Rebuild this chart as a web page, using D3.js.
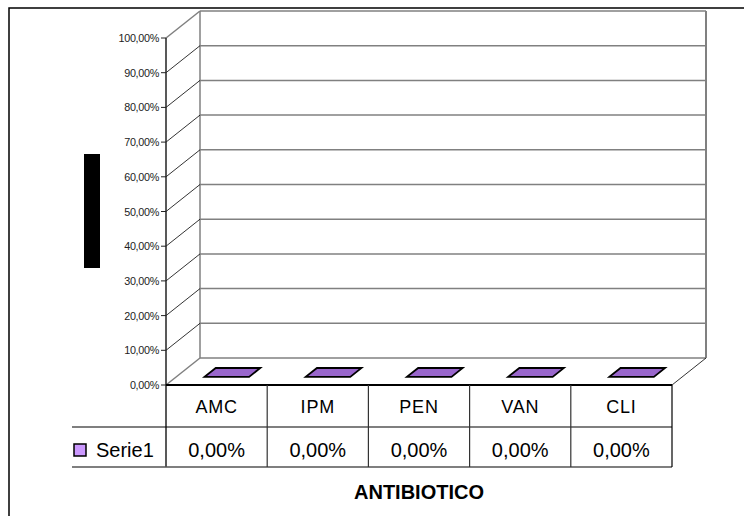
<!DOCTYPE html>
<html>
<head>
<meta charset="utf-8">
<script src="https://cdn.jsdelivr.net/npm/d3@7"></script>
<style>
  html, body { margin: 0; padding: 0; background: #fff; }
  svg { display: block; font-family: "Liberation Sans", Arial, sans-serif; }
</style>
</head>
<body>
<svg id="chart" width="744" height="516"></svg>
<script>
// Series data
const categories = ["AMC", "IPM", "PEN", "VAN", "CLI"];
const serieName = "Serie1";
const serieValues = [0, 0, 0, 0, 0];
const yTicks = [0, 0.1, 0.2, 0.3, 0.4, 0.5, 0.6, 0.7, 0.8, 0.9, 1.0];
const axisTitle = "ANTIBIOTICO";

const svg = d3.select("#chart");
const locale = d3.formatLocale({ decimal: ",", thousands: ".", grouping: [3], currency: ["", "€"] });
const pct = locale.format(".2%");

// 3D frame geometry
const left = 166, right = 672, floorY = 385, topY = 38;
const depthX = 34, depthY = 27;
const barDepth0 = 0.3, barDepth1 = 0.63;

const x = d3.scaleBand().domain(categories).range([left, right]).paddingInner(0.56).paddingOuter(0.28);
const col = d3.scaleBand().domain(categories).range([left, right]);
const y = d3.scaleLinear().domain([0, 1]).range([floorY, topY]);

// outer chart border
svg.append("rect").attr("x", 9).attr("y", 8).attr("width", 760).attr("height", 540)
  .attr("fill", "none").attr("stroke", "#000").attr("stroke-width", 1.5);

// back wall and gridlines
const backL = left + depthX, backR = right + depthX;
yTicks.forEach(t => {
  svg.append("line").attr("x1", backL).attr("x2", backR)
    .attr("y1", y(t) - depthY).attr("y2", y(t) - depthY)
    .attr("stroke", "#808080").attr("stroke-width", 1.5);
});
svg.append("line").attr("x1", backL).attr("x2", backL).attr("y1", y(1) - depthY).attr("y2", y(0) - depthY)
  .attr("stroke", "#808080").attr("stroke-width", 1.5);
svg.append("line").attr("x1", backR).attr("x2", backR).attr("y1", y(1) - depthY).attr("y2", y(0) - depthY)
  .attr("stroke", "#808080").attr("stroke-width", 2);

// side wall diagonals from the axis ticks
yTicks.forEach((t, i) => {
  const edge = (i === 0 || i === yTicks.length - 1);
  svg.append("line").attr("x1", left).attr("y1", y(t)).attr("x2", backL).attr("y2", y(t) - depthY)
    .attr("stroke", edge ? "#808080" : "#000").attr("stroke-width", edge ? 1.5 : 0.8);
});
// floor right diagonal
svg.append("line").attr("x1", right).attr("y1", floorY).attr("x2", backR).attr("y2", floorY - depthY)
  .attr("stroke", "#000").attr("stroke-width", 0.8);

// bars (3D columns: top, front and side faces)
const pt = (xv, d, v) => [xv + d * depthX, y(v) - d * depthY];
categories.forEach((c, i) => {
  const v = serieValues[i];
  const x0 = x(c), x1 = x(c) + x.bandwidth();
  const front = [pt(x0, barDepth0, 0), pt(x1, barDepth0, 0), pt(x1, barDepth0, v), pt(x0, barDepth0, v)];
  const side = [pt(x1, barDepth0, 0), pt(x1, barDepth1, 0), pt(x1, barDepth1, v), pt(x1, barDepth0, v)];
  const top = [pt(x0, barDepth0, v), pt(x1, barDepth0, v), pt(x1, barDepth1, v), pt(x0, barDepth1, v)];
  if (v > 0) {
    svg.append("polygon").attr("points", front.join(" ")).attr("fill", "#cc99ff").attr("stroke", "#000");
    svg.append("polygon").attr("points", side.join(" ")).attr("fill", "#7a52a3").attr("stroke", "#000");
  }
  svg.append("polygon").attr("points", top.join(" ")).attr("fill", "#9966cc")
    .attr("stroke", "#000").attr("stroke-width", 1.8).attr("stroke-linejoin", "miter");
});

// front axis line and ticks
svg.append("line").attr("x1", left).attr("x2", left).attr("y1", topY).attr("y2", 467)
  .attr("stroke", "#222").attr("stroke-width", 1.5);
yTicks.forEach(t => {
  svg.append("line").attr("x1", left - 5).attr("x2", left).attr("y1", y(t)).attr("y2", y(t))
    .attr("stroke", "#222").attr("stroke-width", 1);
  svg.append("text").attr("x", 159).attr("y", y(t) + 4).attr("text-anchor", "end")
    .attr("font-size", 10.8).attr("fill", "#222").attr("letter-spacing", -0.3).text(pct(t));
});

// y-axis title block
svg.append("rect").attr("x", 84).attr("y", 154).attr("width", 16).attr("height", 114).attr("fill", "#000");

// data table
const rowTop = floorY, rowMid = 427, rowBot = 467, tableLeft = 72;
svg.append("line").attr("x1", left).attr("x2", right).attr("y1", rowTop).attr("y2", rowTop)
  .attr("stroke", "#000").attr("stroke-width", 2);
svg.append("line").attr("x1", tableLeft).attr("x2", right).attr("y1", rowMid).attr("y2", rowMid)
  .attr("stroke", "#000").attr("stroke-width", 1.2);
svg.append("line").attr("x1", tableLeft).attr("x2", right).attr("y1", rowBot).attr("y2", rowBot)
  .attr("stroke", "#555").attr("stroke-width", 1.5);
categories.forEach((c, i) => {
  const xr = col(c) + col.bandwidth();
  svg.append("line").attr("x1", xr).attr("x2", xr).attr("y1", rowTop).attr("y2", rowBot)
    .attr("stroke", i === categories.length - 1 ? "#000" : "#333").attr("stroke-width", 1.2);
  const cx = col(c) + col.bandwidth() / 2;
  svg.append("text").attr("x", cx).attr("y", 413).attr("text-anchor", "middle")
    .attr("font-size", 18).attr("letter-spacing", 0.8).attr("fill", "#000").text(c);
  svg.append("text").attr("x", cx).attr("y", 457).attr("text-anchor", "middle")
    .attr("font-size", 20).attr("fill", "#000").text(pct(serieValues[i]));
});

// legend key in the table
svg.append("rect").attr("x", 74).attr("y", 444).attr("width", 12).attr("height", 12)
  .attr("fill", "#cc99ff").attr("stroke", "#000").attr("stroke-width", 1.5);
svg.append("text").attr("x", 96).attr("y", 457).attr("font-size", 20).attr("fill", "#000").text(serieName);

// category axis title
svg.append("text").attr("x", 419).attr("y", 499).attr("text-anchor", "middle")
  .attr("font-size", 20).attr("font-weight", "bold").attr("fill", "#000").text(axisTitle);
</script>
</body>
</html>
